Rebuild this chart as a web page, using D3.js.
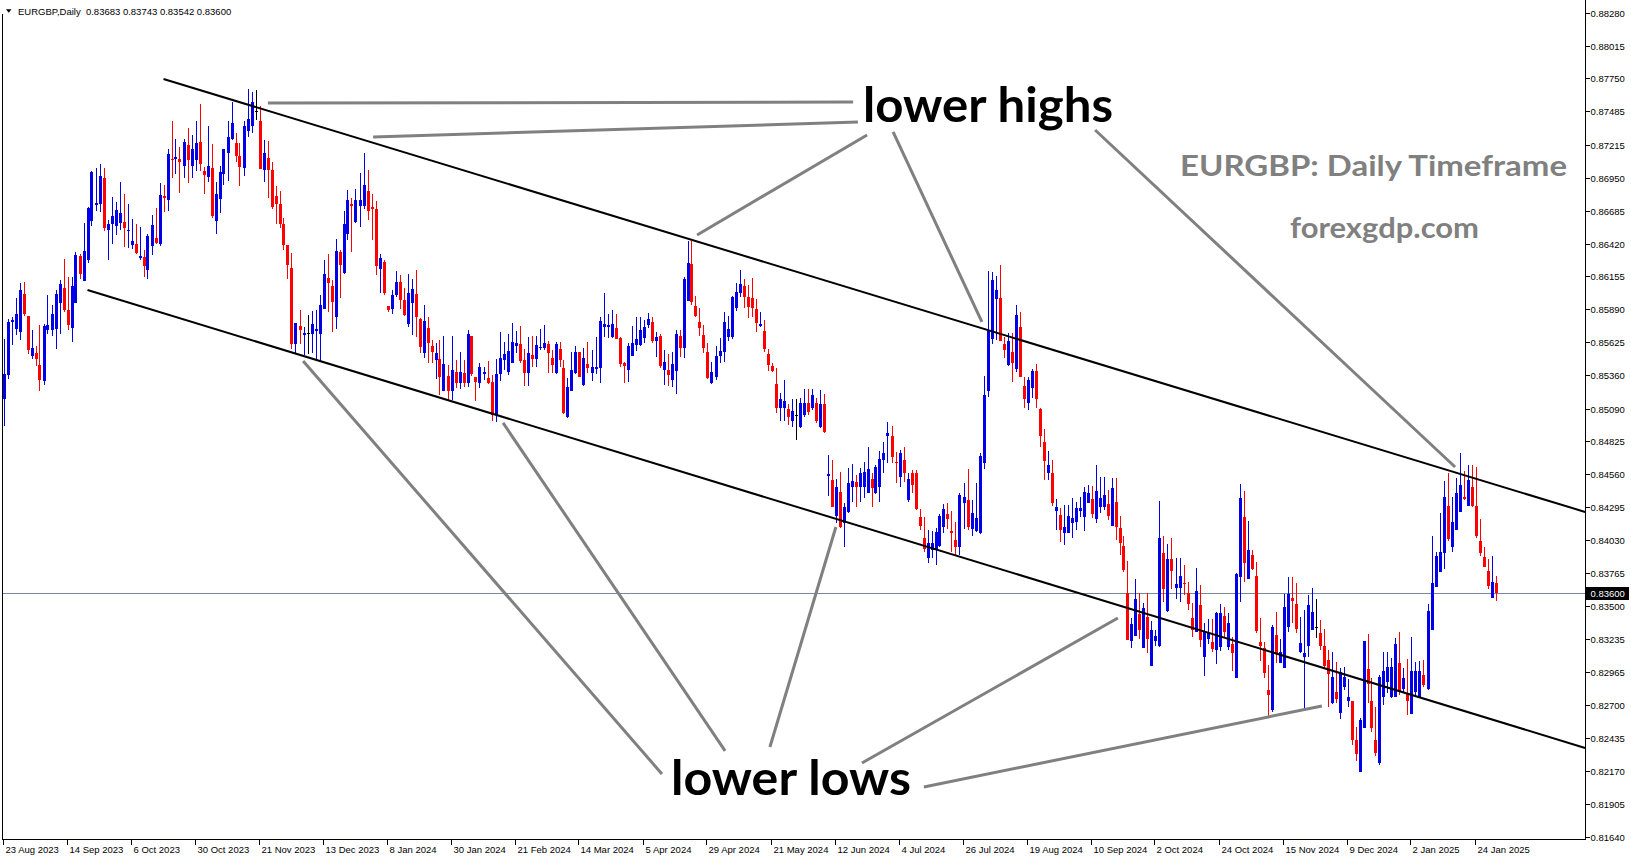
<!DOCTYPE html>
<html><head><meta charset="utf-8">
<script src="https://cdn.jsdelivr.net/npm/d3@7"></script>
<style>
html,body{margin:0;padding:0;background:#fff;overflow:hidden;}
svg{display:block;}
</style></head><body>
<svg id="chart" width="1631" height="861"></svg>
<script>
// ---------------- DATA ----------------
const symbolName = "EURGBP,Daily";
const chartTitle = "EURGBP: Daily Timeframe";
const siteName = "forexgdp.com";
const labelHighs = "lower highs";
const labelLows = "lower lows";

const dateLabels = ["23 Aug 2023","14 Sep 2023","6 Oct 2023","30 Oct 2023","21 Nov 2023","13 Dec 2023","8 Jan 2024","30 Jan 2024","21 Feb 2024","14 Mar 2024","5 Apr 2024","29 Apr 2024","21 May 2024","12 Jun 2024","4 Jul 2024","26 Jul 2024","19 Aug 2024","10 Sep 2024","2 Oct 2024","24 Oct 2024","15 Nov 2024","9 Dec 2024","2 Jan 2025","24 Jan 2025"];
const dateLabelBars = [0,16,32,48,64,80,96,112,128,144,160,176,192,208,224,240,256,272,288,304,320,336,352,368];

const priceTicks = ["0.88280","0.88015","0.87750","0.87485","0.87215","0.86950","0.86685","0.86420","0.86155","0.85890","0.85625","0.85360","0.85090","0.84825","0.84560","0.84295","0.84030","0.83765","0.83500","0.83235","0.82965","0.82700","0.82435","0.82170","0.81905","0.81640"];

const opens = [
.85169,.85357,.85787,.85734,.85707,.86011,.85833,.85513,.85540,.85438,
.85311,.85720,.85720,.85734,.85941,.86064,.85882,.85739,.85941,.86320,
.86118,.86285,.86600,.86729,.86737,.86952,.86532,.86581,.86562,.86586,
.86594,.86522,.86406,.86417,.86304,.86312,.86204,.86398,.86468,.86414,
.86801,.86769,.87100,.87103,.87103,.87044,.87210,.87044,.87097,.87237,
.87003,.86957,.87025,.86602,.86775,.86984,.87146,.87264,.87232,.87124,
.87030,.87326,.87369,.87485,.87407,.87011,.87111,.87011,.86801,.86737,
.86575,.86406,.86223,.85607,.85753,.85685,.85699,.85693,.85712,.85688,
.85895,.86145,.86075,.85828,.86352,.86183,.86500,.86742,.86594,.86723,
.86723,.86842,.86715,.86697,.86212,.86272,.85914,.85895,.86003,.86110,
.85962,.85774,.85941,.86016,.85809,.85535,.85737,.85594,.85482,.85487,
.85234,.85353,.85234,.85388,.85294,.85380,.85299,.85675,.85347,.85299,
.85369,.85334,.85302,.85036,.85369,.85482,.85382,.85460,.85594,.85610,
.85482,.85380,.85522,.85487,.85576,.85576,.85608,.85495,.85374,.85567,
.85414,.85025,.85234,.85374,.85543,.85280,.85449,.85374,.85406,.85414,
.85750,.85745,.85670,.85737,.85656,.85455,.85401,.85514,.85602,.85602,
.85662,.85764,.85785,.85637,.85675,.85401,.85401,.85320,.85396,.85678,
.85576,.85960,.86255,.85917,.85790,.85683,.85543,.85294,.85347,.85516,
.85549,.85664,.85664,.85898,.86020,.86078,.85987,.85979,.85890,.85756,
.85718,.85530,.85433,.85288,.85092,.85092,.85084,.84993,.85036,.84944,
.85036,.85138,.85092,.85138,.84944,.85127,.84546,.84514,.84224,.84415,
.84170,.84259,.84460,.84501,.84455,.84455,.84412,.84519,.84407,.84455,
.84675,.84869,.84869,.84662,.84536,.84675,.84353,.84568,.84573,.84219,
.84049,.83888,.83950,.83955,.83982,.84133,.84240,.84103,.84030,.83972,
.84331,.84353,.84117,.84106,.84084,.84654,.85234,.85648,.85970,.85978,
.85610,.85441,.85543,.85406,.85744,.85272,.85132,.85253,.85392,.85086,
.84818,.84568,.84568,.84267,.84232,.84090,.84090,.84165,.84178,.84267,
.84213,.84326,.84358,.84197,.84299,.84299,.84321,.84144,.84340,.84127,
.83982,.83601,.83220,.83257,.83434,.83163,.83413,.83018,.83217,.83177,
.83929,.83459,.83878,.83647,.83647,.83687,.83601,.83400,.83292,.83507,
.83091,.83230,.83206,.83144,.83171,.83421,.83171,.83193,.82921,.83735,
.84213,.83714,.83910,.83741,.83206,.83163,.82822,.82661,.83265,.83037,
.83002,.83332,.83566,.83515,.83131,.83091,.83176,.83305,.83327,.83279,
.83176,.83064,.82714,.82809,.82639,.82849,.82736,.82736,.82419,.82164,
.82518,.82991,.82733,.82419,.82231,.82763,.82889,.82763,.82763,.83037,
.82830,.82801,.82628,.82803,.82763,.82943,.82827,.83305,.83655,.83775,
.83929,.84305,.83977,.84111,.84259,.84380,.84305,.84455,.84305,.84023,
.83896,.83781,.83566,.83683];

const highs = [
.85653,.85814,.85828,.85984,.86102,.86107,.85833,.85726,.85594,.85761,
.85774,.86008,.85927,.86043,.86124,.86298,.86151,.86151,.86352,.86339,
.86589,.86715,.87006,.87027,.87057,.87025,.86608,.86796,.86753,.86914,
.86823,.86742,.86621,.86581,.86554,.86366,.86500,.86648,.86710,.86904,
.86890,.87178,.87407,.87259,.87194,.87262,.87348,.87294,.87407,.87544,
.87038,.87366,.87221,.86917,.87044,.87178,.87409,.87563,.87313,.87232,
.87409,.87665,.87638,.87657,.87528,.87253,.87245,.87079,.86882,.86842,
.86629,.86411,.86347,.85779,.85887,.85747,.85841,.85876,.85887,.86008,
.86290,.86339,.86124,.86460,.86366,.86683,.86855,.86788,.86863,.86992,
.87146,.87011,.86823,.86761,.86339,.86285,.85914,.86043,.86199,.86164,
.86064,.86177,.86137,.86204,.85817,.85925,.85831,.85643,.85616,.85643,
.85678,.85441,.85678,.85482,.85549,.85482,.85723,.85675,.85347,.85455,
.85428,.85476,.85361,.85490,.85704,.85629,.85691,.85777,.85718,.85758,
.85570,.85664,.85678,.85678,.85731,.85764,.85637,.85562,.85629,.85629,
.85482,.85334,.85549,.85594,.85549,.85576,.85624,.85562,.85670,.85831,
.86019,.85850,.85884,.85852,.85664,.85468,.85616,.85758,.85825,.85825,
.85804,.85858,.85831,.85710,.85691,.85562,.85530,.85549,.85723,.85723,
.86153,.86440,.86440,.86000,.85898,.85764,.85616,.85463,.85597,.85656,
.85871,.85839,.86000,.86100,.86207,.86134,.86086,.86140,.85970,.85871,
.85804,.85570,.85460,.85414,.85213,.85320,.85127,.85167,.85167,.85173,
.85245,.85245,.85245,.85173,.85240,.85207,.84716,.84675,.84519,.84576,
.84326,.84608,.84643,.84554,.84608,.84662,.84777,.84568,.84635,.84750,
.84823,.84984,.84949,.84742,.84756,.84777,.84573,.84595,.84595,.84278,
.84213,.84111,.84106,.84125,.84240,.84321,.84326,.84267,.84178,.84407,
.84487,.84600,.84353,.84487,.84729,.85352,.86198,.86193,.86158,.86247,
.85669,.85701,.85696,.85924,.85870,.85347,.85347,.85406,.85449,.85092,
.84922,.84748,.84675,.84358,.84286,.84313,.84313,.84366,.84339,.84380,
.84460,.84474,.84466,.84635,.84541,.84541,.84434,.84533,.84533,.84224,
.84063,.83864,.83400,.83717,.83601,.83520,.83601,.83381,.83306,.84345,
.84063,.83996,.84044,.83888,.83883,.83829,.83695,.83520,.83808,.83668,
.83365,.83392,.83392,.83453,.83512,.83494,.83440,.83252,.83762,.84482,
.84428,.84187,.83950,.83851,.83400,.83206,.83023,.83346,.83448,.83230,
.83593,.83735,.83735,.83682,.83413,.83467,.83587,.83641,.83552,.83386,
.83311,.83144,.83131,.83050,.82996,.83005,.82908,.82736,.82526,.82594,
.83219,.83273,.82916,.82688,.82943,.83131,.83131,.83077,.83238,.83287,
.82996,.83069,.83252,.83045,.83058,.83064,.83515,.84063,.83937,.84245,
.84509,.84573,.84380,.84533,.84734,.84587,.84635,.84635,.84616,.84197,
.83972,.83875,.83902,.83743];

const lows = [
.84950,.85330,.85599,.85680,.85639,.85833,.85532,.85486,.85430,.85228,
.85276,.85688,.85672,.85572,.85688,.85868,.85726,.85626,.85941,.86137,
.86118,.86264,.86562,.86680,.86675,.86522,.86285,.86414,.86489,.86527,
.86393,.86387,.86374,.86339,.86285,.86151,.86132,.86325,.86414,.86401,
.86675,.86683,.86949,.86979,.86828,.86949,.86909,.86944,.87003,.87003,
.86820,.86917,.86629,.86500,.86667,.86888,.86925,.87253,.87079,.86882,
.86966,.87280,.87313,.87415,.87017,.86917,.86788,.86697,.86581,.86549,
.86366,.86132,.85572,.85532,.85607,.85524,.85532,.85540,.85486,.85465,
.85890,.85868,.85707,.85734,.85981,.86177,.86446,.86352,.86589,.86554,
.86702,.86608,.86446,.86164,.86024,.86003,.85868,.85855,.85989,.85895,
.85833,.85747,.85680,.85666,.85541,.85495,.85460,.85460,.85328,.85199,
.85234,.85159,.85159,.85253,.85248,.85267,.85261,.85353,.85154,.85253,
.85320,.85288,.84993,.84979,.85315,.85401,.85361,.85460,.85541,.85455,
.85275,.85275,.85422,.85422,.85562,.85562,.85380,.85374,.85369,.85422,
.85046,.85011,.85234,.85369,.85342,.85275,.85374,.85315,.85369,.85294,
.85670,.85656,.85656,.85648,.85428,.85299,.85307,.85514,.85557,.85597,
.85616,.85737,.85616,.85508,.85414,.85280,.85275,.85267,.85205,.85508,
.85495,.85960,.85925,.85831,.85675,.85535,.85326,.85288,.85320,.85460,
.85468,.85637,.85648,.85880,.85990,.85898,.85817,.85825,.85710,.85745,
.85549,.85396,.85388,.85052,.84993,.84993,.84958,.84944,.84837,.84931,
.85020,.85036,.85079,.84977,.84931,.84890,.84385,.84294,.84170,.84125,
.83972,.84251,.84339,.84294,.84339,.84366,.84407,.84299,.84401,.84339,
.84573,.84654,.84654,.84493,.84460,.84501,.84339,.84407,.84272,.84111,
.83937,.83843,.83883,.83829,.83977,.84084,.84117,.83937,.83910,.83910,
.84117,.84111,.84063,.84098,.84079,.84600,.85186,.85610,.85642,.85637,
.85494,.85433,.85306,.85387,.85341,.85092,.85078,.85172,.85092,.84783,
.84514,.84514,.84305,.84111,.84017,.83990,.84084,.84044,.84111,.84219,
.84106,.84326,.84205,.84165,.84246,.84273,.84192,.84144,.84031,.83910,
.83776,.83225,.83163,.83257,.83230,.83163,.83117,.83018,.83179,.83171,
.83534,.83453,.83633,.83553,.83534,.83588,.83467,.83252,.83292,.83171,
.82938,.83190,.83131,.83029,.83139,.83252,.83144,.82978,.82921,.83534,
.83695,.83714,.83789,.83284,.83058,.82916,.82607,.82647,.83037,.83037,
.83002,.83292,.83365,.83279,.83117,.82674,.83085,.83305,.83238,.83144,
.82996,.82688,.82709,.82714,.82586,.82822,.82688,.82379,.82252,.82164,
.82513,.82720,.82486,.82290,.82218,.82701,.82795,.82755,.82763,.82782,
.82795,.82620,.82628,.82782,.82755,.82849,.82822,.83305,.83655,.83775,
.83794,.84025,.83937,.84111,.84259,.84353,.84305,.84299,.84044,.83902,
.83810,.83633,.83561,.83542];

const closes = [
.85370,.85787,.85806,.85849,.86043,.85855,.85559,.85580,.85486,.85317,
.85753,.85761,.85849,.86016,.86091,.85887,.85761,.86075,.86325,.86177,
.86358,.86710,.86995,.86748,.86963,.86546,.86575,.86640,.86689,.86662,
.86546,.86532,.86438,.86344,.86317,.86239,.86479,.86568,.86425,.86810,
.86783,.87138,.87092,.87114,.87079,.87237,.87097,.87185,.87232,.87057,
.86971,.87044,.86643,.86823,.86998,.87178,.87275,.87393,.87127,.87038,
.87366,.87420,.87560,.87485,.87017,.87146,.87011,.86715,.86737,.86581,
.86406,.86250,.85607,.85779,.85726,.85699,.85699,.85774,.85734,.85922,
.86177,.86102,.85949,.86360,.86245,.86575,.86769,.86723,.86769,.86769,
.86890,.86683,.86697,.86239,.86304,.86024,.85887,.86003,.86110,.85968,
.85847,.86021,.86056,.85828,.85589,.85799,.85616,.85549,.85535,.85347,
.85449,.85234,.85401,.85299,.85388,.85294,.85691,.85366,.85307,.85422,
.85385,.85299,.85036,.85369,.85500,.85530,.85554,.85624,.85621,.85474,
.85380,.85535,.85487,.85602,.85589,.85621,.85535,.85441,.85608,.85482,
.85057,.85261,.85401,.85549,.85342,.85495,.85414,.85422,.85422,.85799,
.85772,.85764,.85772,.85651,.85449,.85433,.85594,.85616,.85648,.85723,
.85750,.85809,.85637,.85670,.85433,.85463,.85361,.85449,.85691,.85576,
.86134,.86261,.85952,.85836,.85742,.85581,.85339,.85382,.85514,.85557,
.85790,.85731,.85987,.86030,.86094,.85987,.85911,.85898,.85782,.85772,
.85570,.85441,.85396,.85092,.85165,.85154,.85020,.85073,.85036,.85138,
.85138,.85060,.85199,.84993,.85127,.84904,.84560,.84299,.84455,.84133,
.84299,.84487,.84509,.84460,.84573,.84576,.84600,.84447,.84622,.84681,
.84729,.84895,.84702,.84648,.84734,.84573,.84522,.84474,.84278,.84143,
.83955,.84009,.84009,.84098,.84224,.84278,.84200,.84084,.83977,.84393,
.84374,.84133,.84246,.84205,.84707,.85199,.85717,.86126,.86045,.85637,
.85562,.85634,.85454,.85844,.85341,.85164,.85320,.85395,.85167,.84869,
.84670,.84635,.84326,.84299,.84111,.84133,.84224,.84205,.84286,.84291,
.84420,.84407,.84240,.84428,.84366,.84393,.84227,.84452,.84138,.84009,
.83789,.83225,.83351,.83556,.83306,.83480,.83233,.83306,.83260,.84050,
.83633,.83878,.83781,.83676,.83741,.83676,.83515,.83306,.83620,.83225,
.83292,.83279,.83150,.83445,.83440,.83292,.83359,.83117,.83757,.84372,
.83843,.83950,.83797,.83297,.83179,.82956,.82782,.83332,.83117,.83131,
.83494,.83596,.83542,.83314,.83198,.83123,.83507,.83453,.83327,.83176,
.83015,.82948,.82929,.82747,.82970,.82924,.82768,.82419,.82306,.82580,
.83219,.82868,.82518,.82317,.82929,.82978,.83005,.83010,.83193,.82809,
.82916,.82736,.82978,.82978,.82978,.82862,.83459,.83687,.83902,.83937,
.84380,.84036,.84178,.84412,.84474,.84361,.84514,.84305,.84063,.83929,
.83816,.83663,.83695,.83600];

// channel lines: [barIndex, price]
const upperChannel = [[40, 0.87746], [395.4, 0.84257]];
const lowerChannel = [[21, 0.86046], [395.4, 0.82355]];
// pointer lines: [bar1, price1, bar2, price2]
const pointerLines = [
  [66.1, 0.87552, 212.4, 0.87560],
  [92.4, 0.87278, 213.6, 0.87399],
  [173.4, 0.86489, 215.9, 0.87295],
  [222.4, 0.87319, 244.6, 0.85788],
  [272.9, 0.87335, 362.9, 0.84619],
  [74.9, 0.85473, 164.6, 0.82146],
  [124.9, 0.84974, 180.4, 0.82331],
  [208.1, 0.84136, 191.6, 0.82363],
  [278.6, 0.83402, 214.6, 0.82234],
  [329.6, 0.82693, 230.1, 0.82041]
];

// ---------------- DRAW ----------------
const svg = d3.select("#chart");
const n = closes.length;
const last = n - 1;
const plotLeft = 2.5, plotRight = 1585.5, plotBottom = 839.5;
const x = d3.scaleLinear().domain([0, 373]).range([3.5, 1495.5]);
const y = d3.scaleLinear().domain([0.8164, 0.8828]).range([836.7, 12.7]);
const BLUE = "#0000e6", RED = "#ff0000";
const axisFont = "'Liberation Sans', Arial, sans-serif";

svg.append("rect").attr("width", 1631).attr("height", 861).attr("fill", "#fff");

// current price line
svg.append("line")
  .attr("x1", plotLeft).attr("x2", plotRight)
  .attr("y1", Math.round(y(closes[last])) + 0.5).attr("y2", Math.round(y(closes[last])) + 0.5)
  .attr("stroke", "#778899").attr("stroke-width", 1);

// candles
const idx = d3.range(n);
const cg = svg.append("g").attr("shape-rendering", "crispEdges");
const colorOf = i => closes[i] > opens[i] ? BLUE : (closes[i] < opens[i] ? RED : "#000");
cg.selectAll("line.wick").data(idx).join("line")
  .attr("x1", i => Math.round(x(i)) + 0.5).attr("x2", i => Math.round(x(i)) + 0.5)
  .attr("y1", i => y(highs[i])).attr("y2", i => y(lows[i]))
  .attr("stroke", colorOf).attr("stroke-width", 1);
cg.selectAll("rect.body").data(idx).join("rect")
  .attr("x", i => Math.round(x(i)) - 1)
  .attr("width", 3)
  .attr("y", i => Math.round(y(Math.max(opens[i], closes[i]))))
  .attr("height", i => Math.max(1, Math.round(y(Math.min(opens[i], closes[i]))) - Math.round(y(Math.max(opens[i], closes[i])))))
  .attr("fill", colorOf);

// channel lines
[upperChannel, lowerChannel].forEach(c => {
  svg.append("line")
    .attr("x1", x(c[0][0])).attr("y1", y(c[0][1]))
    .attr("x2", x(c[1][0])).attr("y2", y(c[1][1]))
    .attr("stroke", "#000").attr("stroke-width", 2);
});

// pointer lines
svg.append("g").selectAll("line").data(pointerLines).join("line")
  .attr("x1", d => x(d[0])).attr("y1", d => y(d[1]))
  .attr("x2", d => x(d[2])).attr("y2", d => y(d[3]))
  .attr("stroke", "#808080").attr("stroke-width", 3);

// annotation texts
svg.append("text").text(labelHighs)
  .attr("x", 863).attr("y", 121.5)
  .attr("font-family", "Lato, 'Open Sans', sans-serif").attr("font-weight", 700)
  .attr("font-size", 48).attr("fill", "#000")
  .attr("textLength", 250).attr("lengthAdjust", "spacingAndGlyphs");
svg.append("text").text(labelLows)
  .attr("x", 671).attr("y", 795)
  .attr("font-family", "Lato, 'Open Sans', sans-serif").attr("font-weight", 700)
  .attr("font-size", 48).attr("fill", "#000")
  .attr("textLength", 240).attr("lengthAdjust", "spacingAndGlyphs");
svg.append("text").text(chartTitle)
  .attr("x", 1180).attr("y", 175.5)
  .attr("font-family", "Lato, 'Open Sans', sans-serif").attr("font-weight", 700)
  .attr("font-size", 29).attr("fill", "#808080")
  .attr("textLength", 387).attr("lengthAdjust", "spacingAndGlyphs");
svg.append("text").text(siteName)
  .attr("x", 1290).attr("y", 238)
  .attr("font-family", "Lato, 'Open Sans', sans-serif").attr("font-weight", 700)
  .attr("font-size", 29).attr("fill", "#808080")
  .attr("textLength", 189).attr("lengthAdjust", "spacingAndGlyphs");

// frame
const fg = svg.append("g").attr("shape-rendering", "crispEdges").attr("stroke", "#000").attr("stroke-width", 1);
fg.append("line").attr("x1", plotLeft).attr("x2", plotLeft).attr("y1", 14).attr("y2", plotBottom);
fg.append("line").attr("x1", plotLeft).attr("x2", plotRight).attr("y1", plotBottom).attr("y2", plotBottom);
fg.append("line").attr("x1", plotRight).attr("x2", plotRight).attr("y1", 0).attr("y2", plotBottom);

// price axis
const pa = svg.append("g");
priceTicks.forEach(t => {
  const yy = Math.round(y(+t)) + 0.5;
  pa.append("line").attr("x1", plotRight).attr("x2", plotRight + 4).attr("y1", yy).attr("y2", yy)
    .attr("stroke", "#000").attr("shape-rendering", "crispEdges");
  pa.append("text").text(t).attr("x", 1590.5).attr("y", yy + 3.5)
    .attr("font-family", axisFont).attr("font-size", 9.5).attr("fill", "#000");
});
// current price box
const cy = Math.round(y(closes[last])) + 0.5;
pa.append("rect").attr("x", plotRight + 0.5).attr("y", cy - 6.5).attr("width", 43).attr("height", 13).attr("fill", "#000");
pa.append("text").text(closes[last].toFixed(5)).attr("x", 1590.5).attr("y", cy + 3.5)
  .attr("font-family", axisFont).attr("font-size", 9.5).attr("fill", "#fff");

// time axis
const ta = svg.append("g");
dateLabels.forEach((lab, k) => {
  const xx = Math.round(x(dateLabelBars[k])) - 0.5;
  ta.append("line").attr("x1", xx).attr("x2", xx).attr("y1", plotBottom).attr("y2", plotBottom + 5)
    .attr("stroke", "#000").attr("shape-rendering", "crispEdges");
  ta.append("text").text(lab).attr("x", xx + 2).attr("y", 853)
    .attr("font-family", axisFont).attr("font-size", 9.5).attr("fill", "#000");
});

// header
svg.append("polygon").attr("points", "6,9.3 11.5,9.3 8.75,12.8").attr("fill", "#000");
svg.append("text")
  .text(symbolName + "  " + [opens[last], highs[last], lows[last], closes[last]].map(v => v.toFixed(5)).join(" "))
  .attr("x", 18).attr("y", 14.5).attr("xml:space", "preserve").style("white-space", "pre")
  .attr("font-family", axisFont).attr("font-size", 9.5).attr("fill", "#000");
</script>
</body></html>
